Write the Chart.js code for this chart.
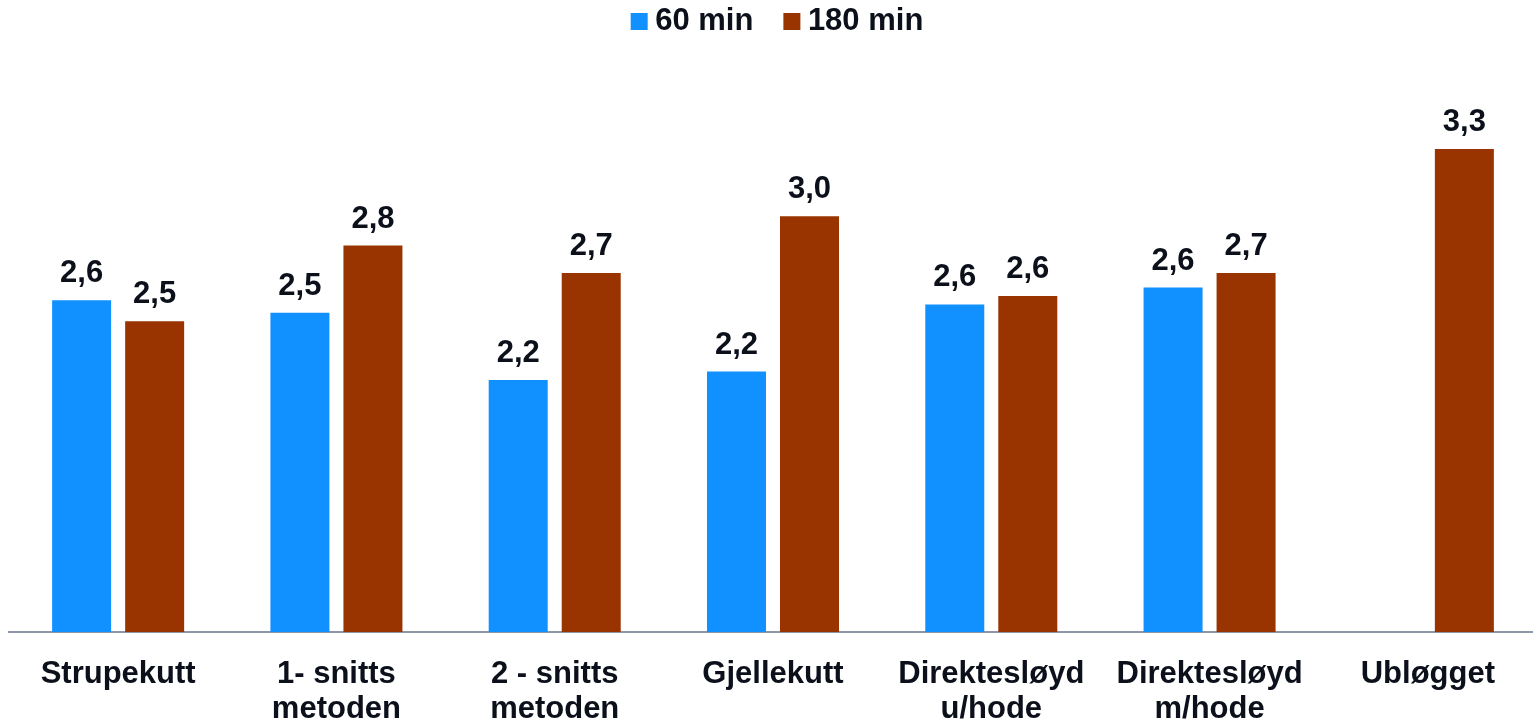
<!DOCTYPE html>
<html>
<head>
<meta charset="utf-8">
<script src="https://cdn.jsdelivr.net/npm/chart.js@4"></script>
<style>
  html, body { margin: 0; padding: 0; background: #fff; overflow: hidden; }
  #wrap { width: 1537px; height: 752px; }
</style>
</head>
<body>
<div id="wrap"><canvas id="chart"></canvas></div>
<script>
'use strict';

let categories = [
  'Strupekutt',
  ['1- snitts', 'metoden'],
  ['2 - snitts', 'metoden'],
  'Gjellekutt',
  ['Direktesløyd', 'u/hode'],
  ['Direktesløyd', 'm/hode'],
  'Ubløgget'
];
let min60 = [2.58, 2.52, 2.20, 2.24, 2.56, 2.64, null];
let min180 = [2.48, 2.84, 2.71, 2.98, 2.60, 2.71, 3.30];

let fontFamily = '"Liberation Sans", Arial, sans-serif';
let textColor = '#0b101a';

// value labels above each bar, comma decimals
let valueLabels = {
  id: 'valueLabels',
  afterLayout(chart) {
    // nudge legend a bit to the right, like the original
    chart.legend.left += 8;
    chart.legend.right += 8;
  },
  afterDatasetsDraw(chart) {
    let ctx = chart.ctx;
    ctx.save();
    ctx.font = 'bold 31px ' + fontFamily;
    ctx.fillStyle = textColor;
    ctx.textAlign = 'center';
    ctx.textBaseline = 'alphabetic';
    chart.data.datasets.forEach((ds, i) => {
      chart.getDatasetMeta(i).data.forEach((bar, j) => {
        let v = ds.data[j];
        if (v === null) return;
        ctx.fillText(v.toFixed(1).replace('.', ','), bar.x, bar.y - 18);
      });
    });
    ctx.restore();
  }
};

let canvasElem = document.getElementById('chart');

new Chart(canvasElem, {
  type: 'bar',
  data: {
    labels: categories,
    datasets: [{
      label: '60 min',
      data: min60,
      backgroundColor: '#1190ff'
    },
    {
      label: '180 min',
      data: min180,
      backgroundColor: '#993300'
    }]
  },
  options: {
    responsive: true,
    maintainAspectRatio: false,
    animation: false,
    categoryPercentage: 0.669,
    barPercentage: 0.808,
    layout: { padding: { left: 9, right: 0, top: -32, bottom: 0 } },
    plugins: {
      tooltip: { enabled: false },
      legend: {
        position: 'top',
        labels: {
          usePointStyle: true,
          pointStyle: 'rect',
          boxWidth: 1,
          boxHeight: 17,
          padding: 38,
          color: textColor,
          font: { family: fontFamily, size: 31, weight: 'bold' }
        }
      }
    },
    scales: {
      y: {
        display: false,
        min: 1,
        max: 3.786
      },
      x: {
        grid: { display: false, drawTicks: false },
        border: { display: true, color: '#8e97a8', width: 2 },
        ticks: {
          color: textColor,
          autoSkip: false,
          maxRotation: 0,
          padding: 25,
          font: { family: fontFamily, size: 31, weight: 'bold', lineHeight: 1.13 }
        }
      }
    }
  },
  plugins: [valueLabels]
});
</script>
</body>
</html>
